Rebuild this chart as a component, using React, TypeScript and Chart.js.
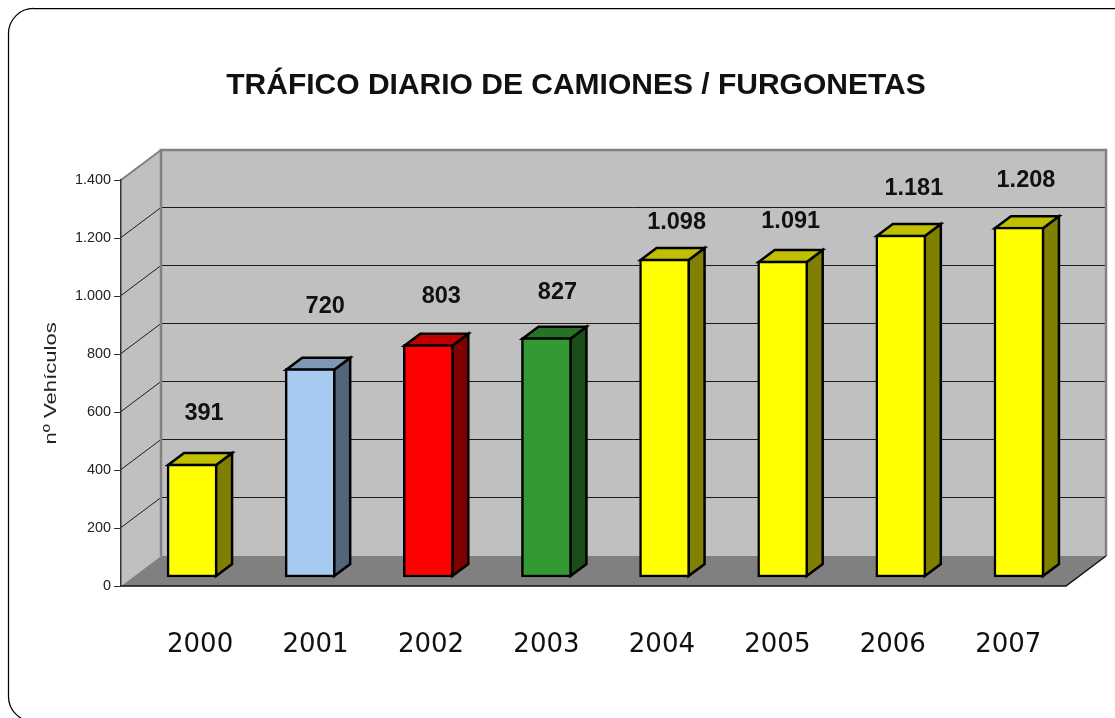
import React, { useEffect, useRef } from "react";
import { Chart, registerables } from "chart.js";

Chart.register(...registerables);

const years = ["2000", "2001", "2002", "2003", "2004", "2005", "2006", "2007"];
const vehicles = [391, 720, 803, 827, 1098, 1091, 1181, 1208];
const frontColors = ["#ffff00", "#a6caf0", "#ff0000", "#339933", "#ffff00", "#ffff00", "#ffff00", "#ffff00"];
const sideColors = ["#808000", "#536578", "#800000", "#1a4d1a", "#808000", "#808000", "#808000", "#808000"];
const topColors = ["#c0c000", "#7c98b4", "#c00000", "#267326", "#c0c000", "#c0c000", "#c0c000", "#c0c000"];
const labelShiftX = [12, 15, 13, 11, 12, 8, 13, 7];
const labelShiftY = [-50.5, -62.5, -48.5, -45.5, -36.5, -39.5, -46.5, -46.5];

const titleText = "TRÁFICO DIARIO DE CAMIONES / FURGONETAS";
const yTitle = "nº Vehículos";
const fontFamily = "'Liberation Sans', Arial, sans-serif";

const WALL_DX = 40;
const WALL_DY = -30;
const BAR_DX = 12;
const BAR_DY = -8.5;
const BAR_DEPTH_X = 16;
const BAR_DEPTH_Y = -12;
const TITLE_SHIFT = 23;
const Y_TITLE_STRETCH = 1.3;

const fmt = (v: number) => String(v).replace(/\B(?=(\d{3})+(?!\d))/g, ".");

const poly = (ctx: CanvasRenderingContext2D, pts: number[][], fill: string | null, stroke: string | null, lw = 1) => {
  ctx.beginPath();
  pts.forEach((p, i) => (i ? ctx.lineTo(p[0], p[1]) : ctx.moveTo(p[0], p[1])));
  ctx.closePath();
  if (fill) {
    ctx.fillStyle = fill;
    ctx.fill();
  }
  if (stroke) {
    ctx.strokeStyle = stroke;
    ctx.lineWidth = lw;
    ctx.stroke();
  }
};

const scenePlugin = {
  id: "scene",
  afterLayout(chart: any) {
    const t = chart.titleBlock;
    if (t && !t._shifted) {
      t.left += TITLE_SHIFT;
      t.right += TITLE_SHIFT;
      t._shifted = true;
    }
    const s = chart.scales.y;
    if (s && !s._titleWrapped) {
      const drawTitle = s.drawTitle;
      s.drawTitle = function () {
        const ctx = chart.ctx;
        const cy = (chart.chartArea.top + chart.chartArea.bottom) / 2 - 1;
        ctx.save();
        ctx.translate(0, cy);
        ctx.scale(1, Y_TITLE_STRETCH);
        ctx.translate(0, -cy);
        drawTitle.call(s);
        ctx.restore();
      };
      s._titleWrapped = true;
    }
  },
  beforeDraw(chart: any) {
    const { ctx, chartArea: a, scales, width, height } = chart;
    ctx.save();
    ctx.fillStyle = "#ffffff";
    ctx.fillRect(0, 0, width, height);

    // rounded frame, running off the right and bottom of the page
    ctx.beginPath();
    ctx.roundRect(8.5, 8.5, width + 20, height - 8 + 3, 25);
    ctx.strokeStyle = "#000000";
    ctx.lineWidth = 1.25;
    ctx.stroke();

    const y0 = scales.y.getPixelForValue(0);
    const yTop = scales.y.getPixelForValue(1400);
    const L = a.left;
    const R = a.right;
    const BL = L + WALL_DX;
    const BR = R + WALL_DX;
    const By0 = y0 + WALL_DY;
    const ByT = yTop + WALL_DY;

    // walls
    poly(ctx, [[L, y0], [BL, By0], [BL, ByT], [L, yTop]], "#c0c0c0", null);
    poly(ctx, [[BL, By0], [BR, By0], [BR, ByT], [BL, ByT]], "#c0c0c0", null);

    // gridlines, following the left wall and then the back wall
    scales.y.ticks.forEach((tk: any) => {
      if (tk.value === 0 || tk.value === 1400) return;
      const py = Math.round(scales.y.getPixelForValue(tk.value)) - 0.5;
      ctx.beginPath();
      ctx.moveTo(L, py);
      ctx.lineTo(BL, py + WALL_DY);
      ctx.lineTo(BR, py + WALL_DY);
      ctx.strokeStyle = "#1a1a1a";
      ctx.lineWidth = 1;
      ctx.stroke();
    });

    // wall edges
    ctx.strokeStyle = "#808080";
    ctx.lineWidth = 2.5;
    ctx.beginPath();
    ctx.moveTo(BL, By0);
    ctx.lineTo(BL, ByT);
    ctx.lineTo(BR, ByT);
    ctx.lineTo(BR, By0);
    ctx.stroke();
    ctx.lineWidth = 2;
    ctx.beginPath();
    ctx.moveTo(L, yTop);
    ctx.lineTo(BL, ByT);
    ctx.stroke();

    // floor
    poly(ctx, [[L, y0], [R, y0], [BR, By0], [BL, By0]], "#808080", null);
    ctx.strokeStyle = "#111111";
    ctx.lineWidth = 1.5;
    ctx.beginPath();
    ctx.moveTo(L, y0);
    ctx.lineTo(R, y0);
    ctx.lineTo(BR, By0);
    ctx.stroke();
    ctx.restore();
  },
  beforeDatasetsDraw(chart: any) {
    const { ctx } = chart;
    ctx.save();
    ctx.translate(BAR_DX, BAR_DY);
    const meta = chart.getDatasetMeta(0);
    ctx.lineJoin = "miter";
    meta.data.forEach((bar: any, i: number) => {
      const hw = bar.width / 2 - 1;
      const l = bar.x - hw;
      const r = bar.x + hw;
      const t = bar.y + 1;
      const b = bar.base - 1;
      poly(ctx, [[r, t], [r + BAR_DEPTH_X, t + BAR_DEPTH_Y], [r + BAR_DEPTH_X, b + BAR_DEPTH_Y], [r, b]], sideColors[i], "#000000", 2.5);
      poly(ctx, [[l, t], [l + BAR_DEPTH_X, t + BAR_DEPTH_Y], [r + BAR_DEPTH_X, t + BAR_DEPTH_Y], [r, t]], topColors[i], "#000000", 2.5);
    });
  },
  afterDatasetsDraw(chart: any) {
    const { ctx } = chart;
    ctx.restore();
    ctx.save();
    const meta = chart.getDatasetMeta(0);
    ctx.font = `bold 23.5px ${fontFamily}`;
    ctx.fillStyle = "#111111";
    ctx.textAlign = "center";
    ctx.textBaseline = "middle";
    meta.data.forEach((bar: any, i: number) => {
      ctx.fillText(fmt(vehicles[i]), bar.x + BAR_DX + labelShiftX[i], bar.y + BAR_DY + labelShiftY[i]);
    });
    ctx.restore();
  },
};

export default function App() {
  const ref = useRef<HTMLCanvasElement | null>(null);

  useEffect(() => {
    if (!ref.current) return;
    const chart = new Chart(ref.current, {
      type: "bar",
      data: {
        labels: years,
        datasets: [
          {
            label: yTitle,
            data: vehicles,
            xAxisID: "x",
            yAxisID: "y",
            backgroundColor: frontColors,
            borderColor: "#000000",
            borderWidth: 2.5,
            borderSkipped: false,
            barThickness: 50,
            clip: false,
          } as any,
        ],
      },
      options: {
        animation: false,
        responsive: false,
        maintainAspectRatio: false,
        layout: { padding: { left: 40, right: 49, top: 0, bottom: 0 } },
        plugins: {
          legend: { display: false },
          tooltip: { enabled: false },
          title: {
            display: true,
            text: titleText,
            color: "#111111",
            font: { family: fontFamily, size: 30, weight: "bold" },
            padding: { top: 68, bottom: 76 },
          },
        },
        scales: {
          x: { type: "category", display: false },
          xl: {
            type: "linear",
            position: "bottom",
            offset: false,
            min: 1999.315,
            max: 2007.5,
            grid: { display: false, offset: false },
            border: { display: false },
            afterFit: (s: any) => {
              s.height = 132;
            },
            ticks: {
              stepSize: 1,
              includeBounds: false,
              autoSkip: false,
              maxRotation: 0,
              padding: 36,
              color: "#111111",
              font: { family: "'DejaVu Sans'", size: 26 },
              callback: (v: any) => String(v),
            },
          },
          y: {
            position: "left",
            min: 0,
            max: 1400,
            afterFit: (s: any) => {
              s.width = 81;
            },
            border: { display: true, color: "#333333", width: 1.5 },
            grid: { drawOnChartArea: false, drawTicks: true, tickLength: 7, color: "#333333" },
            title: {
              display: true,
              text: yTitle,
              color: "#222222",
              font: { family: fontFamily, size: 17 },
              padding: { top: 1, bottom: 0 },
            },
            ticks: {
              stepSize: 200,
              padding: 3,
              color: "#222222",
              font: { family: fontFamily, size: 14.4 },
              callback: (v: any) => fmt(Number(v)),
            },
          },
        },
      } as any,
      plugins: [scenePlugin],
    });
    return () => chart.destroy();
  }, []);

  return (
    <div style={{ position: "fixed", left: 0, top: 0, width: 1115, height: 718, overflow: "hidden" }}>
      <canvas ref={ref} width={1115} height={718} style={{ display: "block" }} />
    </div>
  );
}
